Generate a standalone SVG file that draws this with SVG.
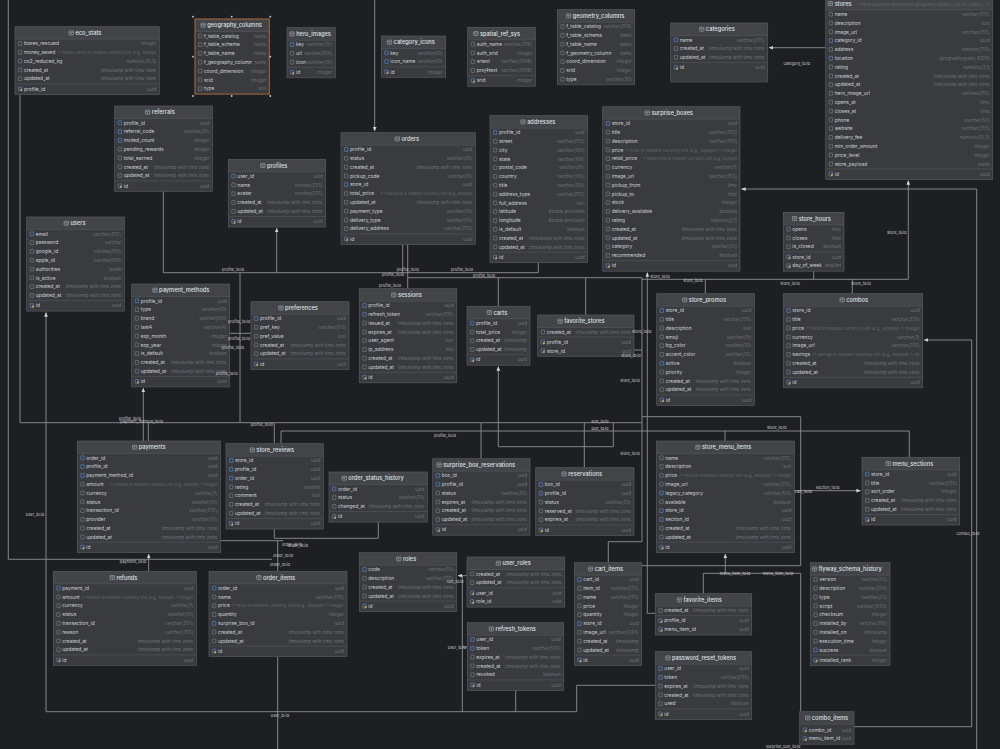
<svg xmlns="http://www.w3.org/2000/svg" width="1000" height="749" viewBox="0 0 1000 749">
<defs>
<style>
.b{fill:#393b3f}
.h{fill:#424448}
.o{fill:none;stroke:#57595e;stroke-width:.7}
.s{stroke:#55575c;stroke-width:.6;fill:none}
.tt{font-family:Inter,"Liberation Sans",sans-serif;font-size:5.7px;font-weight:500;fill:#dfe1e5}
.n{font-family:Inter,"Liberation Sans",sans-serif;font-size:4.9px;fill:#cfd1d5}
.y{font-family:Inter,"Liberation Sans",sans-serif;font-size:4.6px;fill:#6d7177;text-anchor:end}
.m{font-family:Inter,"Liberation Sans",sans-serif;font-size:3.8px;fill:#64686e}
.c{fill:none;stroke:#8e9094;stroke-width:.9;stroke-linejoin:round}
.l{font-family:Inter,"Liberation Sans",sans-serif;font-size:4px;fill:#c9cbce;text-anchor:middle}
</style>
<marker id="a" viewBox="0 0 6 6" refX="5.5" refY="3" markerWidth="4.5" markerHeight="4.5" orient="auto" markerUnits="userSpaceOnUse"><path d="M0,.5L6,3L0,5.5z" fill="#d2d4d7"/></marker>
<g id="ti"><rect width="4.4" height="4" rx=".5" fill="none" stroke="#b9bcc1" stroke-width=".5"/><path d="M0,1.4h4.4M2.2,1.4v2.6" stroke="#b9bcc1" stroke-width=".45"/></g>
<g id="c"><rect width="3.4" height="3.8" rx=".4" fill="none" stroke="#8e9196" stroke-width=".5"/></g>
<g id="f"><rect width="3.4" height="3.8" rx=".4" fill="none" stroke="#5f8fd9" stroke-width=".6"/></g>
<g id="k"><rect width="3.4" height="3.8" rx=".4" fill="none" stroke="#5f8fd9" stroke-width=".6"/><rect x="1.9" y="1.8" width="1.6" height="2.1" fill="#d7a637"/></g>
</defs>
<rect width="1000" height="749" fill="#1e1f22"/>
<g id="connectors">
<path class="c" d="M374.7,0V131" marker-end="url(#a)"/>
<path class="c" d="M825.7,47.7H769" marker-end="url(#a)"/>
<path class="c" d="M20,94.4V422.7H642"/>
<path class="c" d="M240,272.7V422.7"/>
<path class="c" d="M229.7,333.3H251"/>
<path class="c" d="M148.3,441V422.7"/>
<path class="c" d="M143.3,441V388.2" marker-end="url(#a)"/>
<path class="c" d="M274.3,443.7V422.7"/>
<path class="c" d="M281,443.7V431H909.3V457.3"/>
<path class="c" d="M725,441V431"/>
<path class="c" d="M163.3,191.3V272.7H538.3V262.6"/>
<path class="c" d="M276.7,272.7V228.2" marker-end="url(#a)"/>
<path class="c" d="M402.7,244.4V272.7"/>
<path class="c" d="M407.7,244.4V288.7"/>
<path class="c" d="M407.7,277.7H642V541.7H608.3V562.7"/>
<path class="c" d="M498.3,277.7V306.3"/>
<path class="c" d="M585.7,277.7V315"/>
<path class="c" d="M655.3,613.3H647.3V272.6" marker-end="url(#a)"/>
<path class="c" d="M642,279.3H908.3V180.7" marker-end="url(#a)"/>
<path class="c" d="M813.7,271.2V279.3"/>
<path class="c" d="M705.3,293.7V279.3"/>
<path class="c" d="M852.3,293.7V279.3"/>
<path class="c" d="M634,350H642"/>
<path class="c" d="M976.7,749V189H741.5" marker-end="url(#a)"/>
<path class="c" d="M854,726.7H971.7V340H924.2" marker-end="url(#a)"/>
<path class="c" d="M641.7,565.7H800.7V416.7H642"/>
<path class="c" d="M794.3,490.7H860.5" marker-end="url(#a)"/>
<path class="c" d="M725.3,573.3V554.1" marker-end="url(#a)"/>
<path class="c" d="M703.3,593.7V573.3H800.7V711.7"/>
<path class="c" d="M655.3,685.3H576.7V711.7H46V312.5" marker-end="url(#a)"/>
<path class="c" d="M277.7,656.6V749"/>
<path class="c" d="M467,575.7H458.1" marker-end="url(#a)"/>
<path class="c" d="M462.3,575.7V711.7"/>
<path class="c" d="M467.3,647H462.3"/>
<path class="c" d="M515.7,690.4V711.7"/>
<path class="c" d="M8.3,0V559.3H272"/>
<path class="c" d="M277.7,540.7V571.3"/>
<path class="c" d="M148.7,571.3V554.1" marker-end="url(#a)"/>
<path class="c" d="M274.3,529V538.3H378.3V522.1"/>
<path class="c" d="M220.3,540.7H283"/>
<path class="c" d="M481,423V458.7"/>
<path class="c" d="M613.3,423V446.7H498.3V366.6" marker-end="url(#a)"/>
<path class="c" d="M584.3,423V467.7"/>
</g>

<g id="eco_stats" transform="translate(15,26.7)"><rect class="b" width="144.3" height="67.7"/><rect class="h" width="144.3" height="12.5"/><path class="s" d="M0,12.5H144.3M0,57.2H144.3"/><rect class="o" width="144.3" height="67.7"/><use href="#ti" x="54.15" y="4.2"/><text class="tt" x="60.45" y="8.3">eco_stats</text>
<use href="#c" x="3.5" y="14.9"/><use href="#c" x="3.5" y="23.7"/><use href="#c" x="3.5" y="32.5"/><use href="#c" x="3.5" y="41.3"/><use href="#c" x="3.5" y="50.1"/><use href="#k" x="3.5" y="60.3"/>
<text class="n"><tspan x="9" y="18.6">boxes_rescued</tspan><tspan x="9" y="27.4">money_saved</tspan><tspan x="9" y="36.2">co2_reduced_kg</tspan><tspan x="9" y="45">created_at</tspan><tspan x="9" y="53.8">updated_at</tspan><tspan x="9" y="64">profile_id</tspan></text>
<text class="y"><tspan x="141.3" y="18.6">integer</tspan><tspan x="141.3" y="36.2">numeric(10,3)</tspan><tspan x="141.3" y="45">timestamp with time zone</tspan><tspan x="141.3" y="53.8">timestamp with time zone</tspan><tspan x="141.3" y="64">uuid</tspan></text>
<text class="m" x="43" y="27.4" textLength="98" lengthAdjust="spacingAndGlyphs">/* Money saved in smallest currency unit (e.g., kopeyk</text></g>

<g id="geography_columns" transform="translate(195,19)"><rect class="b" width="74.3" height="75.1"/><rect class="h" width="74.3" height="12.5"/><path class="s" d="M0,12.5H74.3"/><rect class="o" width="74.3" height="75.1" style="stroke:#a86a3f;stroke-width:1"/><use href="#ti" x="5.95" y="4.2"/><text class="tt" x="12.25" y="8.3">geography_columns</text>
<use href="#c" x="3.5" y="14.9"/><use href="#c" x="3.5" y="23.7"/><use href="#c" x="3.5" y="32.5"/><use href="#c" x="3.5" y="41.3"/><use href="#c" x="3.5" y="50.1"/><use href="#c" x="3.5" y="58.9"/><use href="#c" x="3.5" y="67.7"/>
<text class="n"><tspan x="9" y="18.6">f_table_catalog</tspan><tspan x="9" y="27.4">f_table_schema</tspan><tspan x="9" y="36.2">f_table_name</tspan><tspan x="9" y="45">f_geography_column</tspan><tspan x="9" y="53.8">coord_dimension</tspan><tspan x="9" y="62.6">srid</tspan><tspan x="9" y="71.4">type</tspan></text>
<text class="y"><tspan x="71.3" y="18.6">name</tspan><tspan x="71.3" y="27.4">name</tspan><tspan x="71.3" y="36.2">name</tspan><tspan x="71.3" y="45">name</tspan><tspan x="71.3" y="53.8">integer</tspan><tspan x="71.3" y="62.6">integer</tspan><tspan x="71.3" y="71.4">text</tspan></text>
<g fill="#c9cbce"><circle cx="-2" cy="-2.3" r=".9"/><circle cx="36.7" cy="-2.3" r=".9"/><circle cx="75.3" cy="-2.3" r=".9"/><circle cx="-2" cy="37.7" r=".9"/><circle cx="75.3" cy="37.7" r=".9"/><circle cx="-2" cy="77" r=".9"/><circle cx="36.7" cy="77" r=".9"/><circle cx="75.3" cy="77" r=".9"/></g></g>

<g id="hero_images" transform="translate(287,27.7)"><rect class="b" width="48.3" height="50.1"/><rect class="h" width="48.3" height="12.5"/><path class="s" d="M0,12.5H48.3M0,39.6H48.3"/><rect class="o" width="48.3" height="50.1"/><use href="#ti" x="2.85" y="4.2"/><text class="tt" x="9.15" y="8.3">hero_images</text>
<use href="#f" x="3.5" y="14.9"/><use href="#c" x="3.5" y="23.7"/><use href="#c" x="3.5" y="32.5"/><use href="#k" x="3.5" y="42.7"/>
<text class="n"><tspan x="9" y="18.6">key</tspan><tspan x="9" y="27.4">url</tspan><tspan x="9" y="36.2">icon</tspan><tspan x="9" y="46.4">id</tspan></text>
<text class="y"><tspan x="45.3" y="18.6">varchar(50)</tspan><tspan x="45.3" y="27.4">varchar(500)</tspan><tspan x="45.3" y="36.2">varchar(50)</tspan><tspan x="45.3" y="46.4">integer</tspan></text></g>

<g id="category_icons" transform="translate(381.3,36)"><rect class="b" width="64.4" height="41.3"/><rect class="h" width="64.4" height="12.5"/><path class="s" d="M0,12.5H64.4M0,30.8H64.4"/><rect class="o" width="64.4" height="41.3"/><use href="#ti" x="5.95" y="4.2"/><text class="tt" x="12.25" y="8.3">category_icons</text>
<use href="#f" x="3.5" y="14.9"/><use href="#f" x="3.5" y="23.7"/><use href="#k" x="3.5" y="33.9"/>
<text class="n"><tspan x="9" y="18.6">key</tspan><tspan x="9" y="27.4">icon_name</tspan><tspan x="9" y="37.6">id</tspan></text>
<text class="y"><tspan x="61.4" y="18.6">varchar(50)</tspan><tspan x="61.4" y="27.4">varchar(50)</tspan><tspan x="61.4" y="37.6">integer</tspan></text></g>

<g id="spatial_ref_sys" transform="translate(467.7,27.3)"><rect class="b" width="67.6" height="58.9"/><rect class="h" width="67.6" height="12.5"/><path class="s" d="M0,12.5H67.6M0,48.4H67.6"/><rect class="o" width="67.6" height="58.9"/><use href="#ti" x="5.9" y="4.2"/><text class="tt" x="12.2" y="8.3">spatial_ref_sys</text>
<use href="#c" x="3.5" y="14.9"/><use href="#c" x="3.5" y="23.7"/><use href="#c" x="3.5" y="32.5"/><use href="#c" x="3.5" y="41.3"/><use href="#k" x="3.5" y="51.5"/>
<text class="n"><tspan x="9" y="18.6">auth_name</tspan><tspan x="9" y="27.4">auth_srid</tspan><tspan x="9" y="36.2">srtext</tspan><tspan x="9" y="45">proj4text</tspan><tspan x="9" y="55.2">srid</tspan></text>
<text class="y"><tspan x="64.6" y="18.6">varchar(256)</tspan><tspan x="64.6" y="27.4">integer</tspan><tspan x="64.6" y="36.2">varchar(2048)</tspan><tspan x="64.6" y="45">varchar(2048)</tspan><tspan x="64.6" y="55.2">integer</tspan></text></g>

<g id="geometry_columns" transform="translate(557.3,9.7)"><rect class="b" width="77.4" height="75.1"/><rect class="h" width="77.4" height="12.5"/><path class="s" d="M0,12.5H77.4"/><rect class="o" width="77.4" height="75.1"/><use href="#ti" x="9.15" y="4.2"/><text class="tt" x="15.45" y="8.3">geometry_columns</text>
<use href="#c" x="3.5" y="14.9"/><use href="#c" x="3.5" y="23.7"/><use href="#c" x="3.5" y="32.5"/><use href="#c" x="3.5" y="41.3"/><use href="#c" x="3.5" y="50.1"/><use href="#c" x="3.5" y="58.9"/><use href="#c" x="3.5" y="67.7"/>
<text class="n"><tspan x="9" y="18.6">f_table_catalog</tspan><tspan x="9" y="27.4">f_table_schema</tspan><tspan x="9" y="36.2">f_table_name</tspan><tspan x="9" y="45">f_geometry_column</tspan><tspan x="9" y="53.8">coord_dimension</tspan><tspan x="9" y="62.6">srid</tspan><tspan x="9" y="71.4">type</tspan></text>
<text class="y"><tspan x="74.4" y="18.6">varchar(256)</tspan><tspan x="74.4" y="27.4">name</tspan><tspan x="74.4" y="36.2">name</tspan><tspan x="74.4" y="45">name</tspan><tspan x="74.4" y="53.8">integer</tspan><tspan x="74.4" y="62.6">integer</tspan><tspan x="74.4" y="71.4">varchar(30)</tspan></text></g>

<g id="categories" transform="translate(670.7,23)"><rect class="b" width="97" height="58.9"/><rect class="h" width="97" height="12.5"/><path class="s" d="M0,12.5H97M0,39.6H97"/><rect class="o" width="97" height="58.9"/><use href="#ti" x="28.85" y="4.2"/><text class="tt" x="35.15" y="8.3">categories</text>
<use href="#f" x="3.5" y="14.9"/><use href="#c" x="3.5" y="23.7"/><use href="#c" x="3.5" y="32.5"/><use href="#k" x="3.5" y="42.7"/>
<text class="n"><tspan x="9" y="18.6">name</tspan><tspan x="9" y="27.4">created_at</tspan><tspan x="9" y="36.2">updated_at</tspan><tspan x="9" y="46.4">id</tspan></text>
<text class="y"><tspan x="94" y="18.6">varchar(255)</tspan><tspan x="94" y="27.4">timestamp with time zone</tspan><tspan x="94" y="36.2">timestamp with time zone</tspan><tspan x="94" y="46.4">uuid</tspan></text></g>

<g id="stores" transform="translate(825.7,-2.6)"><rect class="b" width="167" height="182.1"/><rect class="h" width="167" height="12.5"/><path class="s" d="M0,12.5H167M0,171.6H167"/><rect class="o" width="167" height="182.1"/><use href="#ti" x="2.5" y="4.2"/><text class="tt" x="9" y="8.3">stores</text><text class="m" x="31" y="8.2" textLength="132" lengthAdjust="spacingAndGlyphs">/* Store locations with PostGIS geography support. Use ST_Distan... */</text>
<use href="#c" x="3.5" y="14.9"/><use href="#c" x="3.5" y="23.7"/><use href="#c" x="3.5" y="32.5"/><use href="#f" x="3.5" y="41.3"/><use href="#c" x="3.5" y="50.1"/><use href="#f" x="3.5" y="58.9"/><use href="#c" x="3.5" y="67.7"/><use href="#c" x="3.5" y="76.5"/><use href="#c" x="3.5" y="85.3"/><use href="#c" x="3.5" y="94.1"/><use href="#c" x="3.5" y="102.9"/><use href="#c" x="3.5" y="111.7"/><use href="#c" x="3.5" y="120.5"/><use href="#c" x="3.5" y="129.3"/><use href="#c" x="3.5" y="138.1"/><use href="#c" x="3.5" y="146.9"/><use href="#c" x="3.5" y="155.7"/><use href="#c" x="3.5" y="164.5"/><use href="#k" x="3.5" y="174.7"/>
<text class="n"><tspan x="9" y="18.6">name</tspan><tspan x="9" y="27.4">description</tspan><tspan x="9" y="36.2">image_url</tspan><tspan x="9" y="45">category_id</tspan><tspan x="9" y="53.8">address</tspan><tspan x="9" y="62.6">location</tspan><tspan x="9" y="71.4">rating</tspan><tspan x="9" y="80.2">created_at</tspan><tspan x="9" y="89">updated_at</tspan><tspan x="9" y="97.8">hero_image_url</tspan><tspan x="9" y="106.6">opens_at</tspan><tspan x="9" y="115.4">closes_at</tspan><tspan x="9" y="124.2">phone</tspan><tspan x="9" y="133">website</tspan><tspan x="9" y="141.8">delivery_fee</tspan><tspan x="9" y="150.6">min_order_amount</tspan><tspan x="9" y="159.4">price_level</tspan><tspan x="9" y="168.2">store_payload</tspan><tspan x="9" y="178.4">id</tspan></text>
<text class="y"><tspan x="164" y="18.6">varchar(255)</tspan><tspan x="164" y="27.4">text</tspan><tspan x="164" y="36.2">varchar(255)</tspan><tspan x="164" y="45">uuid</tspan><tspan x="164" y="53.8">varchar(255)</tspan><tspan x="164" y="62.6">geography(point,4326)</tspan><tspan x="164" y="71.4">numeric(3,1)</tspan><tspan x="164" y="80.2">timestamp with time zone</tspan><tspan x="164" y="89">timestamp with time zone</tspan><tspan x="164" y="97.8">varchar(255)</tspan><tspan x="164" y="106.6">time</tspan><tspan x="164" y="115.4">time</tspan><tspan x="164" y="124.2">varchar(50)</tspan><tspan x="164" y="133">varchar(255)</tspan><tspan x="164" y="141.8">numeric(10,2)</tspan><tspan x="164" y="150.6">integer</tspan><tspan x="164" y="159.4">integer</tspan><tspan x="164" y="168.2">jsonb</tspan><tspan x="164" y="178.4">uuid</tspan></text></g>

<g id="referrals" transform="translate(114.7,106)"><rect class="b" width="97.6" height="85.3"/><rect class="h" width="97.6" height="12.5"/><path class="s" d="M0,12.5H97.6M0,74.8H97.6"/><rect class="o" width="97.6" height="85.3"/><use href="#ti" x="30.8" y="4.2"/><text class="tt" x="37.1" y="8.3">referrals</text>
<use href="#f" x="3.5" y="14.9"/><use href="#f" x="3.5" y="23.7"/><use href="#f" x="3.5" y="32.5"/><use href="#c" x="3.5" y="41.3"/><use href="#c" x="3.5" y="50.1"/><use href="#c" x="3.5" y="58.9"/><use href="#c" x="3.5" y="67.7"/><use href="#k" x="3.5" y="77.9"/>
<text class="n"><tspan x="9" y="18.6">profile_id</tspan><tspan x="9" y="27.4">referral_code</tspan><tspan x="9" y="36.2">invited_count</tspan><tspan x="9" y="45">pending_rewards</tspan><tspan x="9" y="53.8">total_earned</tspan><tspan x="9" y="62.6">created_at</tspan><tspan x="9" y="71.4">updated_at</tspan><tspan x="9" y="81.6">id</tspan></text>
<text class="y"><tspan x="94.6" y="18.6">uuid</tspan><tspan x="94.6" y="27.4">varchar(20)</tspan><tspan x="94.6" y="36.2">integer</tspan><tspan x="94.6" y="45">integer</tspan><tspan x="94.6" y="53.8">integer</tspan><tspan x="94.6" y="62.6">timestamp with time zone</tspan><tspan x="94.6" y="71.4">timestamp with time zone</tspan><tspan x="94.6" y="81.6">uuid</tspan></text></g>

<g id="profiles" transform="translate(228.3,159.3)"><rect class="b" width="97.4" height="67.7"/><rect class="h" width="97.4" height="12.5"/><path class="s" d="M0,12.5H97.4M0,57.2H97.4"/><rect class="o" width="97.4" height="67.7"/><use href="#ti" x="32.35" y="4.2"/><text class="tt" x="38.65" y="8.3">profiles</text>
<use href="#f" x="3.5" y="14.9"/><use href="#c" x="3.5" y="23.7"/><use href="#c" x="3.5" y="32.5"/><use href="#c" x="3.5" y="41.3"/><use href="#c" x="3.5" y="50.1"/><use href="#k" x="3.5" y="60.3"/>
<text class="n"><tspan x="9" y="18.6">user_id</tspan><tspan x="9" y="27.4">name</tspan><tspan x="9" y="36.2">avatar</tspan><tspan x="9" y="45">created_at</tspan><tspan x="9" y="53.8">updated_at</tspan><tspan x="9" y="64">id</tspan></text>
<text class="y"><tspan x="94.4" y="18.6">uuid</tspan><tspan x="94.4" y="27.4">varchar(255)</tspan><tspan x="94.4" y="36.2">varchar(255)</tspan><tspan x="94.4" y="45">timestamp with time zone</tspan><tspan x="94.4" y="53.8">timestamp with time zone</tspan><tspan x="94.4" y="64">uuid</tspan></text></g>

<g id="orders" transform="translate(341,132.7)"><rect class="b" width="134.3" height="111.7"/><rect class="h" width="134.3" height="12.5"/><path class="s" d="M0,12.5H134.3M0,101.2H134.3"/><rect class="o" width="134.3" height="111.7"/><use href="#ti" x="54.1" y="4.2"/><text class="tt" x="60.4" y="8.3">orders</text>
<use href="#f" x="3.5" y="14.9"/><use href="#c" x="3.5" y="23.7"/><use href="#c" x="3.5" y="32.5"/><use href="#c" x="3.5" y="41.3"/><use href="#f" x="3.5" y="50.1"/><use href="#c" x="3.5" y="58.9"/><use href="#c" x="3.5" y="67.7"/><use href="#c" x="3.5" y="76.5"/><use href="#c" x="3.5" y="85.3"/><use href="#c" x="3.5" y="94.1"/><use href="#k" x="3.5" y="104.3"/>
<text class="n"><tspan x="9" y="18.6">profile_id</tspan><tspan x="9" y="27.4">status</tspan><tspan x="9" y="36.2">created_at</tspan><tspan x="9" y="45">pickup_code</tspan><tspan x="9" y="53.8">store_id</tspan><tspan x="9" y="62.6">total_price</tspan><tspan x="9" y="71.4">updated_at</tspan><tspan x="9" y="80.2">payment_type</tspan><tspan x="9" y="89">delivery_type</tspan><tspan x="9" y="97.8">delivery_address</tspan><tspan x="9" y="108">id</tspan></text>
<text class="y"><tspan x="131.3" y="18.6">uuid</tspan><tspan x="131.3" y="27.4">varchar(20)</tspan><tspan x="131.3" y="36.2">timestamp with time zone</tspan><tspan x="131.3" y="45">varchar(10)</tspan><tspan x="131.3" y="53.8">uuid</tspan><tspan x="131.3" y="71.4">timestamp with time zone</tspan><tspan x="131.3" y="80.2">varchar(50)</tspan><tspan x="131.3" y="89">varchar(50)</tspan><tspan x="131.3" y="97.8">varchar(255)</tspan><tspan x="131.3" y="108">uuid</tspan></text>
<text class="m" x="39" y="62.6" textLength="92" lengthAdjust="spacingAndGlyphs">/* Total price in smallest currency unit (e.g., kopeyki</text></g>

<g id="addresses" transform="translate(490,115.7)"><rect class="b" width="97.7" height="146.9"/><rect class="h" width="97.7" height="12.5"/><path class="s" d="M0,12.5H97.7M0,136.4H97.7"/><rect class="o" width="97.7" height="146.9"/><use href="#ti" x="30.85" y="4.2"/><text class="tt" x="37.15" y="8.3">addresses</text>
<use href="#f" x="3.5" y="14.9"/><use href="#c" x="3.5" y="23.7"/><use href="#c" x="3.5" y="32.5"/><use href="#c" x="3.5" y="41.3"/><use href="#c" x="3.5" y="50.1"/><use href="#c" x="3.5" y="58.9"/><use href="#c" x="3.5" y="67.7"/><use href="#c" x="3.5" y="76.5"/><use href="#c" x="3.5" y="85.3"/><use href="#c" x="3.5" y="94.1"/><use href="#c" x="3.5" y="102.9"/><use href="#c" x="3.5" y="111.7"/><use href="#c" x="3.5" y="120.5"/><use href="#c" x="3.5" y="129.3"/><use href="#k" x="3.5" y="139.5"/>
<text class="n"><tspan x="9" y="18.6">profile_id</tspan><tspan x="9" y="27.4">street</tspan><tspan x="9" y="36.2">city</tspan><tspan x="9" y="45">state</tspan><tspan x="9" y="53.8">postal_code</tspan><tspan x="9" y="62.6">country</tspan><tspan x="9" y="71.4">title</tspan><tspan x="9" y="80.2">address_type</tspan><tspan x="9" y="89">full_address</tspan><tspan x="9" y="97.8">latitude</tspan><tspan x="9" y="106.6">longitude</tspan><tspan x="9" y="115.4">is_default</tspan><tspan x="9" y="124.2">created_at</tspan><tspan x="9" y="133">updated_at</tspan><tspan x="9" y="143.2">id</tspan></text>
<text class="y"><tspan x="94.7" y="18.6">uuid</tspan><tspan x="94.7" y="27.4">varchar(255)</tspan><tspan x="94.7" y="36.2">varchar(100)</tspan><tspan x="94.7" y="45">varchar(100)</tspan><tspan x="94.7" y="53.8">varchar(20)</tspan><tspan x="94.7" y="62.6">varchar(100)</tspan><tspan x="94.7" y="71.4">varchar(100)</tspan><tspan x="94.7" y="80.2">varchar(255)</tspan><tspan x="94.7" y="89">text</tspan><tspan x="94.7" y="97.8">double precision</tspan><tspan x="94.7" y="106.6">double precision</tspan><tspan x="94.7" y="115.4">boolean</tspan><tspan x="94.7" y="124.2">timestamp with time zone</tspan><tspan x="94.7" y="133">timestamp with time zone</tspan><tspan x="94.7" y="143.2">uuid</tspan></text></g>

<g id="surprise_boxes" transform="translate(602.7,106.7)"><rect class="b" width="137.3" height="164.5"/><rect class="h" width="137.3" height="12.5"/><path class="s" d="M0,12.5H137.3M0,154H137.3"/><rect class="o" width="137.3" height="164.5"/><use href="#ti" x="42.4" y="4.2"/><text class="tt" x="48.7" y="8.3">surprise_boxes</text>
<use href="#f" x="3.5" y="14.9"/><use href="#c" x="3.5" y="23.7"/><use href="#c" x="3.5" y="32.5"/><use href="#c" x="3.5" y="41.3"/><use href="#c" x="3.5" y="50.1"/><use href="#c" x="3.5" y="58.9"/><use href="#c" x="3.5" y="67.7"/><use href="#c" x="3.5" y="76.5"/><use href="#c" x="3.5" y="85.3"/><use href="#c" x="3.5" y="94.1"/><use href="#c" x="3.5" y="102.9"/><use href="#c" x="3.5" y="111.7"/><use href="#c" x="3.5" y="120.5"/><use href="#c" x="3.5" y="129.3"/><use href="#c" x="3.5" y="138.1"/><use href="#c" x="3.5" y="146.9"/><use href="#k" x="3.5" y="157.1"/>
<text class="n"><tspan x="9" y="18.6">store_id</tspan><tspan x="9" y="27.4">title</tspan><tspan x="9" y="36.2">description</tspan><tspan x="9" y="45">price</tspan><tspan x="9" y="53.8">retail_price</tspan><tspan x="9" y="62.6">currency</tspan><tspan x="9" y="71.4">image_url</tspan><tspan x="9" y="80.2">pickup_from</tspan><tspan x="9" y="89">pickup_to</tspan><tspan x="9" y="97.8">stock</tspan><tspan x="9" y="106.6">delivery_available</tspan><tspan x="9" y="115.4">rating</tspan><tspan x="9" y="124.2">created_at</tspan><tspan x="9" y="133">updated_at</tspan><tspan x="9" y="141.8">category</tspan><tspan x="9" y="150.6">recommended</tspan><tspan x="9" y="160.8">id</tspan></text>
<text class="y"><tspan x="134.3" y="18.6">uuid</tspan><tspan x="134.3" y="27.4">varchar(255)</tspan><tspan x="134.3" y="36.2">varchar(255)</tspan><tspan x="134.3" y="62.6">varchar(3)</tspan><tspan x="134.3" y="71.4">varchar(255)</tspan><tspan x="134.3" y="80.2">time</tspan><tspan x="134.3" y="89">time</tspan><tspan x="134.3" y="97.8">integer</tspan><tspan x="134.3" y="106.6">boolean</tspan><tspan x="134.3" y="115.4">numeric(3,1)</tspan><tspan x="134.3" y="124.2">timestamp with time zone</tspan><tspan x="134.3" y="133">timestamp with time zone</tspan><tspan x="134.3" y="141.8">varchar(50)</tspan><tspan x="134.3" y="150.6">boolean</tspan><tspan x="134.3" y="160.8">uuid</tspan></text>
<text class="m" x="22" y="45" textLength="112.3" lengthAdjust="spacingAndGlyphs">/* Price in smallest currency unit (e.g., kopeyki) */ integer</text>
<text class="m" x="40" y="53.8" textLength="94.3" lengthAdjust="spacingAndGlyphs">/* Retail price in smallest currency unit (e.g., kopeyki</text></g>

<g id="users" transform="translate(26.7,217)"><rect class="b" width="97.6" height="94.1"/><rect class="h" width="97.6" height="12.5"/><path class="s" d="M0,12.5H97.6M0,83.6H97.6"/><rect class="o" width="97.6" height="94.1"/><use href="#ti" x="37.4" y="4.2"/><text class="tt" x="43.7" y="8.3">users</text>
<use href="#f" x="3.5" y="14.9"/><use href="#c" x="3.5" y="23.7"/><use href="#c" x="3.5" y="32.5"/><use href="#c" x="3.5" y="41.3"/><use href="#c" x="3.5" y="50.1"/><use href="#c" x="3.5" y="58.9"/><use href="#c" x="3.5" y="67.7"/><use href="#c" x="3.5" y="76.5"/><use href="#k" x="3.5" y="86.7"/>
<text class="n"><tspan x="9" y="18.6">email</tspan><tspan x="9" y="27.4">password</tspan><tspan x="9" y="36.2">google_id</tspan><tspan x="9" y="45">apple_id</tspan><tspan x="9" y="53.8">authorities</tspan><tspan x="9" y="62.6">is_active</tspan><tspan x="9" y="71.4">created_at</tspan><tspan x="9" y="80.2">updated_at</tspan><tspan x="9" y="90.4">id</tspan></text>
<text class="y"><tspan x="94.6" y="18.6">varchar(255)</tspan><tspan x="94.6" y="27.4">varchar</tspan><tspan x="94.6" y="36.2">varchar(100)</tspan><tspan x="94.6" y="45">varchar(100)</tspan><tspan x="94.6" y="53.8">jsonb</tspan><tspan x="94.6" y="62.6">boolean</tspan><tspan x="94.6" y="71.4">timestamp with time zone</tspan><tspan x="94.6" y="80.2">timestamp with time zone</tspan><tspan x="94.6" y="90.4">uuid</tspan></text></g>

<g id="payment_methods" transform="translate(131.7,284)"><rect class="b" width="98" height="102.9"/><rect class="h" width="98" height="12.5"/><path class="s" d="M0,12.5H98M0,92.4H98"/><rect class="o" width="98" height="102.9"/><use href="#ti" x="21.1" y="4.2"/><text class="tt" x="27.4" y="8.3">payment_methods</text>
<use href="#f" x="3.5" y="14.9"/><use href="#c" x="3.5" y="23.7"/><use href="#c" x="3.5" y="32.5"/><use href="#c" x="3.5" y="41.3"/><use href="#c" x="3.5" y="50.1"/><use href="#c" x="3.5" y="58.9"/><use href="#c" x="3.5" y="67.7"/><use href="#c" x="3.5" y="76.5"/><use href="#c" x="3.5" y="85.3"/><use href="#k" x="3.5" y="95.5"/>
<text class="n"><tspan x="9" y="18.6">profile_id</tspan><tspan x="9" y="27.4">type</tspan><tspan x="9" y="36.2">brand</tspan><tspan x="9" y="45">last4</tspan><tspan x="9" y="53.8">exp_month</tspan><tspan x="9" y="62.6">exp_year</tspan><tspan x="9" y="71.4">is_default</tspan><tspan x="9" y="80.2">created_at</tspan><tspan x="9" y="89">updated_at</tspan><tspan x="9" y="99.2">id</tspan></text>
<text class="y"><tspan x="95" y="18.6">uuid</tspan><tspan x="95" y="27.4">varchar(50)</tspan><tspan x="95" y="36.2">varchar(100)</tspan><tspan x="95" y="45">varchar(4)</tspan><tspan x="95" y="53.8">integer</tspan><tspan x="95" y="62.6">integer</tspan><tspan x="95" y="71.4">boolean</tspan><tspan x="95" y="80.2">timestamp with time zone</tspan><tspan x="95" y="89">timestamp with time zone</tspan><tspan x="95" y="99.2">uuid</tspan></text></g>

<g id="preferences" transform="translate(251,301.7)"><rect class="b" width="98" height="67.7"/><rect class="h" width="98" height="12.5"/><path class="s" d="M0,12.5H98M0,57.2H98"/><rect class="o" width="98" height="67.7"/><use href="#ti" x="27.7" y="4.2"/><text class="tt" x="34" y="8.3">preferences</text>
<use href="#f" x="3.5" y="14.9"/><use href="#c" x="3.5" y="23.7"/><use href="#c" x="3.5" y="32.5"/><use href="#c" x="3.5" y="41.3"/><use href="#c" x="3.5" y="50.1"/><use href="#k" x="3.5" y="60.3"/>
<text class="n"><tspan x="9" y="18.6">profile_id</tspan><tspan x="9" y="27.4">pref_key</tspan><tspan x="9" y="36.2">pref_value</tspan><tspan x="9" y="45">created_at</tspan><tspan x="9" y="53.8">updated_at</tspan><tspan x="9" y="64">id</tspan></text>
<text class="y"><tspan x="95" y="18.6">uuid</tspan><tspan x="95" y="27.4">varchar(100)</tspan><tspan x="95" y="36.2">text</tspan><tspan x="95" y="45">timestamp with time zone</tspan><tspan x="95" y="53.8">timestamp with time zone</tspan><tspan x="95" y="64">uuid</tspan></text></g>

<g id="sessions" transform="translate(359.3,288.7)"><rect class="b" width="97.4" height="94.1"/><rect class="h" width="97.4" height="12.5"/><path class="s" d="M0,12.5H97.4M0,83.6H97.4"/><rect class="o" width="97.4" height="94.1"/><use href="#ti" x="32.35" y="4.2"/><text class="tt" x="38.65" y="8.3">sessions</text>
<use href="#f" x="3.5" y="14.9"/><use href="#f" x="3.5" y="23.7"/><use href="#c" x="3.5" y="32.5"/><use href="#c" x="3.5" y="41.3"/><use href="#c" x="3.5" y="50.1"/><use href="#c" x="3.5" y="58.9"/><use href="#c" x="3.5" y="67.7"/><use href="#c" x="3.5" y="76.5"/><use href="#k" x="3.5" y="86.7"/>
<text class="n"><tspan x="9" y="18.6">profile_id</tspan><tspan x="9" y="27.4">refresh_token</tspan><tspan x="9" y="36.2">issued_at</tspan><tspan x="9" y="45">expires_at</tspan><tspan x="9" y="53.8">user_agent</tspan><tspan x="9" y="62.6">ip_address</tspan><tspan x="9" y="71.4">created_at</tspan><tspan x="9" y="80.2">updated_at</tspan><tspan x="9" y="90.4">id</tspan></text>
<text class="y"><tspan x="94.4" y="18.6">uuid</tspan><tspan x="94.4" y="27.4">varchar(500)</tspan><tspan x="94.4" y="36.2">timestamp with time zone</tspan><tspan x="94.4" y="45">timestamp with time zone</tspan><tspan x="94.4" y="53.8">text</tspan><tspan x="94.4" y="62.6">inet</tspan><tspan x="94.4" y="71.4">timestamp with time zone</tspan><tspan x="94.4" y="80.2">timestamp with time zone</tspan><tspan x="94.4" y="90.4">uuid</tspan></text></g>

<g id="carts" transform="translate(467,306.3)"><rect class="b" width="63" height="58.9"/><rect class="h" width="63" height="12.5"/><path class="s" d="M0,12.5H63M0,48.4H63"/><rect class="o" width="63" height="58.9"/><use href="#ti" x="20.1" y="4.2"/><text class="tt" x="26.4" y="8.3">carts</text>
<use href="#f" x="3.5" y="14.9"/><use href="#c" x="3.5" y="23.7"/><use href="#c" x="3.5" y="32.5"/><use href="#c" x="3.5" y="41.3"/><use href="#k" x="3.5" y="51.5"/>
<text class="n"><tspan x="9" y="18.6">profile_id</tspan><tspan x="9" y="27.4">total_price</tspan><tspan x="9" y="36.2">created_at</tspan><tspan x="9" y="45">updated_at</tspan><tspan x="9" y="55.2">id</tspan></text>
<text class="y"><tspan x="60" y="18.6">uuid</tspan><tspan x="60" y="27.4">integer</tspan><tspan x="60" y="36.2">timestamp</tspan><tspan x="60" y="45">timestamp</tspan><tspan x="60" y="55.2">uuid</tspan></text></g>

<g id="favorite_stores" transform="translate(537.7,315)"><rect class="b" width="96.3" height="41.3"/><rect class="h" width="96.3" height="12.5"/><path class="s" d="M0,12.5H96.3M0,22H96.3"/><rect class="o" width="96.3" height="41.3"/><use href="#ti" x="20.25" y="4.2"/><text class="tt" x="26.55" y="8.3">favorite_stores</text>
<use href="#c" x="3.5" y="14.9"/><use href="#k" x="3.5" y="25.1"/><use href="#k" x="3.5" y="33.9"/>
<text class="n"><tspan x="9" y="18.6">created_at</tspan><tspan x="9" y="28.8">profile_id</tspan><tspan x="9" y="37.6">store_id</tspan></text>
<text class="y"><tspan x="93.3" y="18.6">timestamp with time zone</tspan><tspan x="93.3" y="28.8">uuid</tspan><tspan x="93.3" y="37.6">uuid</tspan></text></g>

<g id="store_hours" transform="translate(783.3,212.3)"><rect class="b" width="60.7" height="58.9"/><rect class="h" width="60.7" height="12.5"/><path class="s" d="M0,12.5H60.7M0,39.6H60.7"/><rect class="o" width="60.7" height="58.9"/><use href="#ti" x="9.05" y="4.2"/><text class="tt" x="15.35" y="8.3">store_hours</text>
<use href="#c" x="3.5" y="14.9"/><use href="#c" x="3.5" y="23.7"/><use href="#c" x="3.5" y="32.5"/><use href="#k" x="3.5" y="42.7"/><use href="#k" x="3.5" y="51.5"/>
<text class="n"><tspan x="9" y="18.6">opens</tspan><tspan x="9" y="27.4">closes</tspan><tspan x="9" y="36.2">is_closed</tspan><tspan x="9" y="46.4">store_id</tspan><tspan x="9" y="55.2">day_of_week</tspan></text>
<text class="y"><tspan x="57.7" y="18.6">time</tspan><tspan x="57.7" y="27.4">time</tspan><tspan x="57.7" y="36.2">boolean</tspan><tspan x="57.7" y="46.4">uuid</tspan><tspan x="57.7" y="55.2">smallint</tspan></text></g>

<g id="store_promos" transform="translate(656.7,293.7)"><rect class="b" width="97.6" height="111.7"/><rect class="h" width="97.6" height="12.5"/><path class="s" d="M0,12.5H97.6M0,101.2H97.6"/><rect class="o" width="97.6" height="111.7"/><use href="#ti" x="25.85" y="4.2"/><text class="tt" x="32.15" y="8.3">store_promos</text>
<use href="#f" x="3.5" y="14.9"/><use href="#c" x="3.5" y="23.7"/><use href="#c" x="3.5" y="32.5"/><use href="#c" x="3.5" y="41.3"/><use href="#c" x="3.5" y="50.1"/><use href="#c" x="3.5" y="58.9"/><use href="#f" x="3.5" y="67.7"/><use href="#c" x="3.5" y="76.5"/><use href="#c" x="3.5" y="85.3"/><use href="#c" x="3.5" y="94.1"/><use href="#k" x="3.5" y="104.3"/>
<text class="n"><tspan x="9" y="18.6">store_id</tspan><tspan x="9" y="27.4">title</tspan><tspan x="9" y="36.2">description</tspan><tspan x="9" y="45">emoji</tspan><tspan x="9" y="53.8">bg_color</tspan><tspan x="9" y="62.6">accent_color</tspan><tspan x="9" y="71.4">active</tspan><tspan x="9" y="80.2">priority</tspan><tspan x="9" y="89">created_at</tspan><tspan x="9" y="97.8">updated_at</tspan><tspan x="9" y="108">id</tspan></text>
<text class="y"><tspan x="94.6" y="18.6">uuid</tspan><tspan x="94.6" y="27.4">varchar(255)</tspan><tspan x="94.6" y="36.2">text</tspan><tspan x="94.6" y="45">varchar(10)</tspan><tspan x="94.6" y="53.8">varchar(20)</tspan><tspan x="94.6" y="62.6">varchar(20)</tspan><tspan x="94.6" y="71.4">boolean</tspan><tspan x="94.6" y="80.2">integer</tspan><tspan x="94.6" y="89">timestamp with time zone</tspan><tspan x="94.6" y="97.8">timestamp with time zone</tspan><tspan x="94.6" y="108">uuid</tspan></text></g>

<g id="combos" transform="translate(783.3,293.7)"><rect class="b" width="139.4" height="94.1"/><rect class="h" width="139.4" height="12.5"/><path class="s" d="M0,12.5H139.4M0,83.6H139.4"/><rect class="o" width="139.4" height="94.1"/><use href="#ti" x="56.65" y="4.2"/><text class="tt" x="62.95" y="8.3">combos</text>
<use href="#f" x="3.5" y="14.9"/><use href="#c" x="3.5" y="23.7"/><use href="#c" x="3.5" y="32.5"/><use href="#c" x="3.5" y="41.3"/><use href="#c" x="3.5" y="50.1"/><use href="#c" x="3.5" y="58.9"/><use href="#c" x="3.5" y="67.7"/><use href="#c" x="3.5" y="76.5"/><use href="#k" x="3.5" y="86.7"/>
<text class="n"><tspan x="9" y="18.6">store_id</tspan><tspan x="9" y="27.4">title</tspan><tspan x="9" y="36.2">price</tspan><tspan x="9" y="45">currency</tspan><tspan x="9" y="53.8">image_url</tspan><tspan x="9" y="62.6">savings</tspan><tspan x="9" y="71.4">created_at</tspan><tspan x="9" y="80.2">updated_at</tspan><tspan x="9" y="90.4">id</tspan></text>
<text class="y"><tspan x="136.4" y="18.6">uuid</tspan><tspan x="136.4" y="27.4">varchar(255)</tspan><tspan x="136.4" y="45">varchar(3)</tspan><tspan x="136.4" y="53.8">varchar(255)</tspan><tspan x="136.4" y="71.4">timestamp with time zone</tspan><tspan x="136.4" y="80.2">timestamp with time zone</tspan><tspan x="136.4" y="90.4">uuid</tspan></text>
<text class="m" x="22.4" y="36.2" textLength="114" lengthAdjust="spacingAndGlyphs">/* Price in smallest currency unit (e.g., kopeyki) */ integer</text>
<text class="m" x="29" y="62.6" textLength="107.4" lengthAdjust="spacingAndGlyphs">/* Savings in smallest currency unit (e.g., kopeyki) */ int</text></g>

<g id="payments" transform="translate(77.3,441)"><rect class="b" width="143" height="111.7"/><rect class="h" width="143" height="12.5"/><path class="s" d="M0,12.5H143M0,101.2H143"/><rect class="o" width="143" height="111.7"/><use href="#ti" x="55.15" y="4.2"/><text class="tt" x="61.45" y="8.3">payments</text>
<use href="#f" x="3.5" y="14.9"/><use href="#f" x="3.5" y="23.7"/><use href="#f" x="3.5" y="32.5"/><use href="#c" x="3.5" y="41.3"/><use href="#c" x="3.5" y="50.1"/><use href="#c" x="3.5" y="58.9"/><use href="#c" x="3.5" y="67.7"/><use href="#c" x="3.5" y="76.5"/><use href="#c" x="3.5" y="85.3"/><use href="#c" x="3.5" y="94.1"/><use href="#k" x="3.5" y="104.3"/>
<text class="n"><tspan x="9" y="18.6">order_id</tspan><tspan x="9" y="27.4">profile_id</tspan><tspan x="9" y="36.2">payment_method_id</tspan><tspan x="9" y="45">amount</tspan><tspan x="9" y="53.8">currency</tspan><tspan x="9" y="62.6">status</tspan><tspan x="9" y="71.4">transaction_id</tspan><tspan x="9" y="80.2">provider</tspan><tspan x="9" y="89">created_at</tspan><tspan x="9" y="97.8">updated_at</tspan><tspan x="9" y="108">id</tspan></text>
<text class="y"><tspan x="140" y="18.6">uuid</tspan><tspan x="140" y="27.4">uuid</tspan><tspan x="140" y="36.2">uuid</tspan><tspan x="140" y="53.8">varchar(3)</tspan><tspan x="140" y="62.6">varchar(50)</tspan><tspan x="140" y="71.4">varchar(255)</tspan><tspan x="140" y="80.2">varchar(50)</tspan><tspan x="140" y="89">timestamp with time zone</tspan><tspan x="140" y="97.8">timestamp with time zone</tspan><tspan x="140" y="108">uuid</tspan></text>
<text class="m" x="32.7" y="45" textLength="107.3" lengthAdjust="spacingAndGlyphs">/* Amount in smallest currency unit (e.g., kopeyki) */ integer</text></g>

<g id="store_reviews" transform="translate(226,443.7)"><rect class="b" width="97.3" height="85.3"/><rect class="h" width="97.3" height="12.5"/><path class="s" d="M0,12.5H97.3M0,74.8H97.3"/><rect class="o" width="97.3" height="85.3"/><use href="#ti" x="24.05" y="4.2"/><text class="tt" x="30.35" y="8.3">store_reviews</text>
<use href="#f" x="3.5" y="14.9"/><use href="#f" x="3.5" y="23.7"/><use href="#f" x="3.5" y="32.5"/><use href="#c" x="3.5" y="41.3"/><use href="#c" x="3.5" y="50.1"/><use href="#c" x="3.5" y="58.9"/><use href="#c" x="3.5" y="67.7"/><use href="#k" x="3.5" y="77.9"/>
<text class="n"><tspan x="9" y="18.6">store_id</tspan><tspan x="9" y="27.4">profile_id</tspan><tspan x="9" y="36.2">order_id</tspan><tspan x="9" y="45">rating</tspan><tspan x="9" y="53.8">comment</tspan><tspan x="9" y="62.6">created_at</tspan><tspan x="9" y="71.4">updated_at</tspan><tspan x="9" y="81.6">id</tspan></text>
<text class="y"><tspan x="94.3" y="18.6">uuid</tspan><tspan x="94.3" y="27.4">uuid</tspan><tspan x="94.3" y="36.2">uuid</tspan><tspan x="94.3" y="45">smallint</tspan><tspan x="94.3" y="53.8">text</tspan><tspan x="94.3" y="62.6">timestamp with time zone</tspan><tspan x="94.3" y="71.4">timestamp with time zone</tspan><tspan x="94.3" y="81.6">uuid</tspan></text></g>

<g id="order_status_history" transform="translate(329,472)"><rect class="b" width="98.3" height="50.1"/><rect class="h" width="98.3" height="12.5"/><path class="s" d="M0,12.5H98.3M0,39.6H98.3"/><rect class="o" width="98.3" height="50.1"/><use href="#ti" x="13" y="4.2"/><text class="tt" x="19.3" y="8.3">order_status_history</text>
<use href="#f" x="3.5" y="14.9"/><use href="#c" x="3.5" y="23.7"/><use href="#c" x="3.5" y="32.5"/><use href="#k" x="3.5" y="42.7"/>
<text class="n"><tspan x="9" y="18.6">order_id</tspan><tspan x="9" y="27.4">status</tspan><tspan x="9" y="36.2">changed_at</tspan><tspan x="9" y="46.4">id</tspan></text>
<text class="y"><tspan x="95.3" y="18.6">uuid</tspan><tspan x="95.3" y="27.4">varchar(20)</tspan><tspan x="95.3" y="36.2">timestamp with time zone</tspan><tspan x="95.3" y="46.4">uuid</tspan></text></g>

<g id="surprise_box_reservations" transform="translate(432.7,458.7)"><rect class="b" width="97.3" height="76.5"/><rect class="h" width="97.3" height="12.5"/><path class="s" d="M0,12.5H97.3M0,66H97.3"/><rect class="o" width="97.3" height="76.5"/><use href="#ti" x="4.25" y="4.2"/><text class="tt" x="10.55" y="8.3">surprise_box_reservations</text>
<use href="#f" x="3.5" y="14.9"/><use href="#f" x="3.5" y="23.7"/><use href="#c" x="3.5" y="32.5"/><use href="#c" x="3.5" y="41.3"/><use href="#c" x="3.5" y="50.1"/><use href="#c" x="3.5" y="58.9"/><use href="#k" x="3.5" y="69.1"/>
<text class="n"><tspan x="9" y="18.6">box_id</tspan><tspan x="9" y="27.4">profile_id</tspan><tspan x="9" y="36.2">status</tspan><tspan x="9" y="45">expires_at</tspan><tspan x="9" y="53.8">created_at</tspan><tspan x="9" y="62.6">updated_at</tspan><tspan x="9" y="72.8">id</tspan></text>
<text class="y"><tspan x="94.3" y="18.6">uuid</tspan><tspan x="94.3" y="27.4">uuid</tspan><tspan x="94.3" y="36.2">varchar(50)</tspan><tspan x="94.3" y="45">timestamp with time zone</tspan><tspan x="94.3" y="53.8">timestamp with time zone</tspan><tspan x="94.3" y="62.6">timestamp with time zone</tspan><tspan x="94.3" y="72.8">uuid</tspan></text></g>

<g id="reservations" transform="translate(535.7,467.7)"><rect class="b" width="98.3" height="67.7"/><rect class="h" width="98.3" height="12.5"/><path class="s" d="M0,12.5H98.3M0,57.2H98.3"/><rect class="o" width="98.3" height="67.7"/><use href="#ti" x="26.2" y="4.2"/><text class="tt" x="32.5" y="8.3">reservations</text>
<use href="#f" x="3.5" y="14.9"/><use href="#f" x="3.5" y="23.7"/><use href="#c" x="3.5" y="32.5"/><use href="#c" x="3.5" y="41.3"/><use href="#c" x="3.5" y="50.1"/><use href="#k" x="3.5" y="60.3"/>
<text class="n"><tspan x="9" y="18.6">box_id</tspan><tspan x="9" y="27.4">profile_id</tspan><tspan x="9" y="36.2">status</tspan><tspan x="9" y="45">reserved_at</tspan><tspan x="9" y="53.8">expires_at</tspan><tspan x="9" y="64">id</tspan></text>
<text class="y"><tspan x="95.3" y="18.6">uuid</tspan><tspan x="95.3" y="27.4">uuid</tspan><tspan x="95.3" y="36.2">varchar(20)</tspan><tspan x="95.3" y="45">timestamp with time zone</tspan><tspan x="95.3" y="53.8">timestamp with time zone</tspan><tspan x="95.3" y="64">uuid</tspan></text></g>

<g id="store_menu_items" transform="translate(656.3,441)"><rect class="b" width="138" height="111.7"/><rect class="h" width="138" height="12.5"/><path class="s" d="M0,12.5H138M0,101.2H138"/><rect class="o" width="138" height="111.7"/><use href="#ti" x="39.45" y="4.2"/><text class="tt" x="45.75" y="8.3">store_menu_items</text>
<use href="#c" x="3.5" y="14.9"/><use href="#c" x="3.5" y="23.7"/><use href="#c" x="3.5" y="32.5"/><use href="#c" x="3.5" y="41.3"/><use href="#f" x="3.5" y="50.1"/><use href="#c" x="3.5" y="58.9"/><use href="#f" x="3.5" y="67.7"/><use href="#f" x="3.5" y="76.5"/><use href="#c" x="3.5" y="85.3"/><use href="#c" x="3.5" y="94.1"/><use href="#k" x="3.5" y="104.3"/>
<text class="n"><tspan x="9" y="18.6">name</tspan><tspan x="9" y="27.4">description</tspan><tspan x="9" y="36.2">price</tspan><tspan x="9" y="45">image_url</tspan><tspan x="9" y="53.8">legacy_category</tspan><tspan x="9" y="62.6">available</tspan><tspan x="9" y="71.4">store_id</tspan><tspan x="9" y="80.2">section_id</tspan><tspan x="9" y="89">created_at</tspan><tspan x="9" y="97.8">updated_at</tspan><tspan x="9" y="108">id</tspan></text>
<text class="y"><tspan x="135" y="18.6">varchar(255)</tspan><tspan x="135" y="27.4">text</tspan><tspan x="135" y="45">varchar(255)</tspan><tspan x="135" y="53.8">varchar(100)</tspan><tspan x="135" y="62.6">boolean</tspan><tspan x="135" y="71.4">uuid</tspan><tspan x="135" y="80.2">uuid</tspan><tspan x="135" y="89">timestamp with time zone</tspan><tspan x="135" y="97.8">timestamp with time zone</tspan><tspan x="135" y="108">uuid</tspan></text>
<text class="m" x="23" y="36.2" textLength="112" lengthAdjust="spacingAndGlyphs">/* Price in smallest currency unit (e.g., kopeyki) */ integer</text></g>

<g id="menu_sections" transform="translate(862,457.3)"><rect class="b" width="97.7" height="67.7"/><rect class="h" width="97.7" height="12.5"/><path class="s" d="M0,12.5H97.7M0,57.2H97.7"/><rect class="o" width="97.7" height="67.7"/><use href="#ti" x="24.25" y="4.2"/><text class="tt" x="30.55" y="8.3">menu_sections</text>
<use href="#f" x="3.5" y="14.9"/><use href="#c" x="3.5" y="23.7"/><use href="#c" x="3.5" y="32.5"/><use href="#c" x="3.5" y="41.3"/><use href="#c" x="3.5" y="50.1"/><use href="#k" x="3.5" y="60.3"/>
<text class="n"><tspan x="9" y="18.6">store_id</tspan><tspan x="9" y="27.4">title</tspan><tspan x="9" y="36.2">sort_order</tspan><tspan x="9" y="45">created_at</tspan><tspan x="9" y="53.8">updated_at</tspan><tspan x="9" y="64">id</tspan></text>
<text class="y"><tspan x="94.7" y="18.6">uuid</tspan><tspan x="94.7" y="27.4">varchar(255)</tspan><tspan x="94.7" y="36.2">integer</tspan><tspan x="94.7" y="45">timestamp with time zone</tspan><tspan x="94.7" y="53.8">timestamp with time zone</tspan><tspan x="94.7" y="64">uuid</tspan></text></g>

<g id="refunds" transform="translate(53.3,571.3)"><rect class="b" width="143" height="94.1"/><rect class="h" width="143" height="12.5"/><path class="s" d="M0,12.5H143M0,83.6H143"/><rect class="o" width="143" height="94.1"/><use href="#ti" x="56.8" y="4.2"/><text class="tt" x="63.1" y="8.3">refunds</text>
<use href="#f" x="3.5" y="14.9"/><use href="#c" x="3.5" y="23.7"/><use href="#c" x="3.5" y="32.5"/><use href="#c" x="3.5" y="41.3"/><use href="#c" x="3.5" y="50.1"/><use href="#c" x="3.5" y="58.9"/><use href="#c" x="3.5" y="67.7"/><use href="#c" x="3.5" y="76.5"/><use href="#k" x="3.5" y="86.7"/>
<text class="n"><tspan x="9" y="18.6">payment_id</tspan><tspan x="9" y="27.4">amount</tspan><tspan x="9" y="36.2">currency</tspan><tspan x="9" y="45">status</tspan><tspan x="9" y="53.8">transaction_id</tspan><tspan x="9" y="62.6">reason</tspan><tspan x="9" y="71.4">created_at</tspan><tspan x="9" y="80.2">updated_at</tspan><tspan x="9" y="90.4">id</tspan></text>
<text class="y"><tspan x="140" y="18.6">uuid</tspan><tspan x="140" y="36.2">varchar(3)</tspan><tspan x="140" y="45">varchar(50)</tspan><tspan x="140" y="53.8">varchar(255)</tspan><tspan x="140" y="62.6">varchar(255)</tspan><tspan x="140" y="71.4">timestamp with time zone</tspan><tspan x="140" y="80.2">timestamp with time zone</tspan><tspan x="140" y="90.4">uuid</tspan></text>
<text class="m" x="28.4" y="27.4" textLength="111.6" lengthAdjust="spacingAndGlyphs">/* Amount in smallest currency unit (e.g., kopeyki) */ integer</text></g>

<g id="order_items" transform="translate(209,571.3)"><rect class="b" width="138" height="85.3"/><rect class="h" width="138" height="12.5"/><path class="s" d="M0,12.5H138M0,74.8H138"/><rect class="o" width="138" height="85.3"/><use href="#ti" x="47.7" y="4.2"/><text class="tt" x="54" y="8.3">order_items</text>
<use href="#f" x="3.5" y="14.9"/><use href="#c" x="3.5" y="23.7"/><use href="#c" x="3.5" y="32.5"/><use href="#c" x="3.5" y="41.3"/><use href="#f" x="3.5" y="50.1"/><use href="#c" x="3.5" y="58.9"/><use href="#c" x="3.5" y="67.7"/><use href="#k" x="3.5" y="77.9"/>
<text class="n"><tspan x="9" y="18.6">order_id</tspan><tspan x="9" y="27.4">name</tspan><tspan x="9" y="36.2">price</tspan><tspan x="9" y="45">quantity</tspan><tspan x="9" y="53.8">surprise_box_id</tspan><tspan x="9" y="62.6">created_at</tspan><tspan x="9" y="71.4">updated_at</tspan><tspan x="9" y="81.6">id</tspan></text>
<text class="y"><tspan x="135" y="18.6">uuid</tspan><tspan x="135" y="27.4">varchar(255)</tspan><tspan x="135" y="45">integer</tspan><tspan x="135" y="53.8">uuid</tspan><tspan x="135" y="62.6">timestamp with time zone</tspan><tspan x="135" y="71.4">timestamp with time zone</tspan><tspan x="135" y="81.6">uuid</tspan></text>
<text class="m" x="22.7" y="36.2" textLength="112.3" lengthAdjust="spacingAndGlyphs">/* Price in smallest currency unit (e.g., kopeyki) */ integer</text></g>

<g id="roles" transform="translate(359.3,552.7)"><rect class="b" width="97.4" height="58.9"/><rect class="h" width="97.4" height="12.5"/><path class="s" d="M0,12.5H97.4M0,48.4H97.4"/><rect class="o" width="97.4" height="58.9"/><use href="#ti" x="37.3" y="4.2"/><text class="tt" x="43.6" y="8.3">roles</text>
<use href="#f" x="3.5" y="14.9"/><use href="#c" x="3.5" y="23.7"/><use href="#c" x="3.5" y="32.5"/><use href="#c" x="3.5" y="41.3"/><use href="#k" x="3.5" y="51.5"/>
<text class="n"><tspan x="9" y="18.6">code</tspan><tspan x="9" y="27.4">description</tspan><tspan x="9" y="36.2">created_at</tspan><tspan x="9" y="45">updated_at</tspan><tspan x="9" y="55.2">id</tspan></text>
<text class="y"><tspan x="94.4" y="18.6">varchar(50)</tspan><tspan x="94.4" y="27.4">varchar(255)</tspan><tspan x="94.4" y="36.2">timestamp with time zone</tspan><tspan x="94.4" y="45">timestamp with time zone</tspan><tspan x="94.4" y="55.2">uuid</tspan></text></g>

<g id="user_roles" transform="translate(467,557)"><rect class="b" width="97.7" height="50.1"/><rect class="h" width="97.7" height="12.5"/><path class="s" d="M0,12.5H97.7M0,30.8H97.7"/><rect class="o" width="97.7" height="50.1"/><use href="#ti" x="29.2" y="4.2"/><text class="tt" x="35.5" y="8.3">user_roles</text>
<use href="#c" x="3.5" y="14.9"/><use href="#c" x="3.5" y="23.7"/><use href="#k" x="3.5" y="33.9"/><use href="#k" x="3.5" y="42.7"/>
<text class="n"><tspan x="9" y="18.6">created_at</tspan><tspan x="9" y="27.4">updated_at</tspan><tspan x="9" y="37.6">user_id</tspan><tspan x="9" y="46.4">role_id</tspan></text>
<text class="y"><tspan x="94.7" y="18.6">timestamp with time zone</tspan><tspan x="94.7" y="27.4">timestamp with time zone</tspan><tspan x="94.7" y="37.6">uuid</tspan><tspan x="94.7" y="46.4">uuid</tspan></text></g>

<g id="refresh_tokens" transform="translate(467.3,622.7)"><rect class="b" width="96.4" height="67.7"/><rect class="h" width="96.4" height="12.5"/><path class="s" d="M0,12.5H96.4M0,57.2H96.4"/><rect class="o" width="96.4" height="67.7"/><use href="#ti" x="21.95" y="4.2"/><text class="tt" x="28.25" y="8.3">refresh_tokens</text>
<use href="#f" x="3.5" y="14.9"/><use href="#f" x="3.5" y="23.7"/><use href="#c" x="3.5" y="32.5"/><use href="#c" x="3.5" y="41.3"/><use href="#c" x="3.5" y="50.1"/><use href="#k" x="3.5" y="60.3"/>
<text class="n"><tspan x="9" y="18.6">user_id</tspan><tspan x="9" y="27.4">token</tspan><tspan x="9" y="36.2">expires_at</tspan><tspan x="9" y="45">created_at</tspan><tspan x="9" y="53.8">revoked</tspan><tspan x="9" y="64">id</tspan></text>
<text class="y"><tspan x="93.4" y="18.6">uuid</tspan><tspan x="93.4" y="27.4">varchar(500)</tspan><tspan x="93.4" y="36.2">timestamp with time zone</tspan><tspan x="93.4" y="45">timestamp with time zone</tspan><tspan x="93.4" y="53.8">boolean</tspan><tspan x="93.4" y="64">uuid</tspan></text></g>

<g id="cart_items" transform="translate(574.3,562.7)"><rect class="b" width="67.4" height="102.9"/><rect class="h" width="67.4" height="12.5"/><path class="s" d="M0,12.5H67.4M0,92.4H67.4"/><rect class="o" width="67.4" height="102.9"/><use href="#ti" x="14.05" y="4.2"/><text class="tt" x="20.35" y="8.3">cart_items</text>
<use href="#f" x="3.5" y="14.9"/><use href="#c" x="3.5" y="23.7"/><use href="#c" x="3.5" y="32.5"/><use href="#c" x="3.5" y="41.3"/><use href="#c" x="3.5" y="50.1"/><use href="#f" x="3.5" y="58.9"/><use href="#c" x="3.5" y="67.7"/><use href="#c" x="3.5" y="76.5"/><use href="#c" x="3.5" y="85.3"/><use href="#k" x="3.5" y="95.5"/>
<text class="n"><tspan x="9" y="18.6">cart_id</tspan><tspan x="9" y="27.4">item_id</tspan><tspan x="9" y="36.2">name</tspan><tspan x="9" y="45">price</tspan><tspan x="9" y="53.8">quantity</tspan><tspan x="9" y="62.6">store_id</tspan><tspan x="9" y="71.4">image_url</tspan><tspan x="9" y="80.2">created_at</tspan><tspan x="9" y="89">updated_at</tspan><tspan x="9" y="99.2">id</tspan></text>
<text class="y"><tspan x="64.4" y="18.6">uuid</tspan><tspan x="64.4" y="27.4">varchar(255)</tspan><tspan x="64.4" y="36.2">varchar(255)</tspan><tspan x="64.4" y="45">integer</tspan><tspan x="64.4" y="53.8">integer</tspan><tspan x="64.4" y="62.6">uuid</tspan><tspan x="64.4" y="71.4">varchar(1024)</tspan><tspan x="64.4" y="80.2">timestamp</tspan><tspan x="64.4" y="89">timestamp</tspan><tspan x="64.4" y="99.2">uuid</tspan></text></g>

<g id="favorite_items" transform="translate(655.3,593.7)"><rect class="b" width="96.4" height="41.3"/><rect class="h" width="96.4" height="12.5"/><path class="s" d="M0,12.5H96.4M0,22H96.4"/><rect class="o" width="96.4" height="41.3"/><use href="#ti" x="21.95" y="4.2"/><text class="tt" x="28.25" y="8.3">favorite_items</text>
<use href="#c" x="3.5" y="14.9"/><use href="#k" x="3.5" y="25.1"/><use href="#k" x="3.5" y="33.9"/>
<text class="n"><tspan x="9" y="18.6">created_at</tspan><tspan x="9" y="28.8">profile_id</tspan><tspan x="9" y="37.6">menu_item_id</tspan></text>
<text class="y"><tspan x="93.4" y="18.6">timestamp with time zone</tspan><tspan x="93.4" y="28.8">uuid</tspan><tspan x="93.4" y="37.6">uuid</tspan></text></g>

<g id="password_reset_tokens" transform="translate(655.3,651.7)"><rect class="b" width="96.4" height="67.7"/><rect class="h" width="96.4" height="12.5"/><path class="s" d="M0,12.5H96.4M0,57.2H96.4"/><rect class="o" width="96.4" height="67.7"/><use href="#ti" x="10.4" y="4.2"/><text class="tt" x="16.7" y="8.3">password_reset_tokens</text>
<use href="#f" x="3.5" y="14.9"/><use href="#f" x="3.5" y="23.7"/><use href="#c" x="3.5" y="32.5"/><use href="#c" x="3.5" y="41.3"/><use href="#c" x="3.5" y="50.1"/><use href="#k" x="3.5" y="60.3"/>
<text class="n"><tspan x="9" y="18.6">user_id</tspan><tspan x="9" y="27.4">token</tspan><tspan x="9" y="36.2">expires_at</tspan><tspan x="9" y="45">created_at</tspan><tspan x="9" y="53.8">used</tspan><tspan x="9" y="64">id</tspan></text>
<text class="y"><tspan x="93.4" y="18.6">uuid</tspan><tspan x="93.4" y="27.4">varchar(255)</tspan><tspan x="93.4" y="36.2">timestamp with time zone</tspan><tspan x="93.4" y="45">timestamp with time zone</tspan><tspan x="93.4" y="53.8">boolean</tspan><tspan x="93.4" y="64">uuid</tspan></text></g>

<g id="flyway_schema_history" transform="translate(810.3,562.7)"><rect class="b" width="79.7" height="102.9"/><rect class="h" width="79.7" height="12.5"/><path class="s" d="M0,12.5H79.7M0,92.4H79.7"/><rect class="o" width="79.7" height="102.9"/><use href="#ti" x="2.05" y="4.2"/><text class="tt" x="8.35" y="8.3">flyway_schema_history</text>
<use href="#c" x="3.5" y="14.9"/><use href="#c" x="3.5" y="23.7"/><use href="#c" x="3.5" y="32.5"/><use href="#c" x="3.5" y="41.3"/><use href="#c" x="3.5" y="50.1"/><use href="#c" x="3.5" y="58.9"/><use href="#c" x="3.5" y="67.7"/><use href="#c" x="3.5" y="76.5"/><use href="#f" x="3.5" y="85.3"/><use href="#k" x="3.5" y="95.5"/>
<text class="n"><tspan x="9" y="18.6">version</tspan><tspan x="9" y="27.4">description</tspan><tspan x="9" y="36.2">type</tspan><tspan x="9" y="45">script</tspan><tspan x="9" y="53.8">checksum</tspan><tspan x="9" y="62.6">installed_by</tspan><tspan x="9" y="71.4">installed_on</tspan><tspan x="9" y="80.2">execution_time</tspan><tspan x="9" y="89">success</tspan><tspan x="9" y="99.2">installed_rank</tspan></text>
<text class="y"><tspan x="76.7" y="18.6">varchar(50)</tspan><tspan x="76.7" y="27.4">varchar(200)</tspan><tspan x="76.7" y="36.2">varchar(20)</tspan><tspan x="76.7" y="45">varchar(1000)</tspan><tspan x="76.7" y="53.8">integer</tspan><tspan x="76.7" y="62.6">varchar(100)</tspan><tspan x="76.7" y="71.4">timestamp</tspan><tspan x="76.7" y="80.2">integer</tspan><tspan x="76.7" y="89">boolean</tspan><tspan x="76.7" y="99.2">integer</tspan></text></g>

<g id="combo_items" transform="translate(799.7,711.7)"><rect class="b" width="54.3" height="32.5"/><rect class="h" width="54.3" height="12.5"/><path class="s" d="M0,12.5H54.3"/><rect class="o" width="54.3" height="32.5"/><use href="#ti" x="5.85" y="4.2"/><text class="tt" x="12.15" y="8.3">combo_items</text>
<use href="#k" x="3.5" y="16.3"/><use href="#k" x="3.5" y="25.1"/>
<text class="n"><tspan x="9" y="20">combo_id</tspan><tspan x="9" y="28.8">menu_item_id</tspan></text>
<text class="y"><tspan x="51.3" y="20">uuid</tspan><tspan x="51.3" y="28.8">uuid</tspan></text></g>

<g id="connector-labels">
<text class="l" x="796.7" y="64.5">category_id:id</text>
<text class="l" x="233" y="270.5">profile_id:id</text>
<text class="l" x="407.7" y="270.5">profile_id:id</text>
<text class="l" x="462" y="270.5">profile_id:id</text>
<text class="l" x="393" y="275.5">profile_id:id</text>
<text class="l" x="390" y="286.5">profile_id:id</text>
<text class="l" x="484" y="277">profile_id:id</text>
<text class="l" x="239" y="322.5">profile_id:id</text>
<text class="l" x="239" y="339.5">profile_id:id</text>
<text class="l" x="233" y="349">profile_id:id</text>
<text class="l" x="226.7" y="374.5">profile_id:id</text>
<text class="l" x="660" y="278">store_id:id</text>
<text class="l" x="693" y="282">store_id:id</text>
<text class="l" x="790" y="284.5">store_id:id</text>
<text class="l" x="861" y="284.5">store_id:id</text>
<text class="l" x="896.7" y="233.5">store_id:id</text>
<text class="l" x="641.7" y="332.5">store_id:id</text>
<text class="l" x="631" y="356.5">store_id:id</text>
<text class="l" x="630" y="381.5">store_id:id</text>
<text class="l" x="130" y="420">profile_id:id</text>
<text class="l" x="141.7" y="423">payment_method_id:id</text>
<text class="l" x="261.7" y="425.5">profile_id:id</text>
<text class="l" x="35" y="515.5">user_id:id</text>
<text class="l" x="133" y="563">payment_id:id</text>
<text class="l" x="292" y="546">order_id:id</text>
<text class="l" x="298" y="547">order_id:id</text>
<text class="l" x="283" y="557">order_id:id</text>
<text class="l" x="280" y="566">order_id:id</text>
<text class="l" x="280" y="716.5">user_id:id</text>
<text class="l" x="445" y="437">profile_id:id</text>
<text class="l" x="600" y="422.5">box_id:id</text>
<text class="l" x="600" y="430">box_id:id</text>
<text class="l" x="630" y="455">store_id:id</text>
<text class="l" x="776.7" y="428.5">store_id:id</text>
<text class="l" x="827.7" y="489">section_id:id</text>
<text class="l" x="803.3" y="493">cart_id:id</text>
<text class="l" x="735" y="574.5">menu_item_id:id</text>
<text class="l" x="778" y="574.5">menu_item_id:id</text>
<text class="l" x="968" y="535">combo_id:id</text>
<text class="l" x="455" y="583">role_id:id</text>
<text class="l" x="457" y="648.5">user_id:id</text>
<text class="l" x="783" y="747.5">surprise_box_id:id</text>
</g>
</svg>
